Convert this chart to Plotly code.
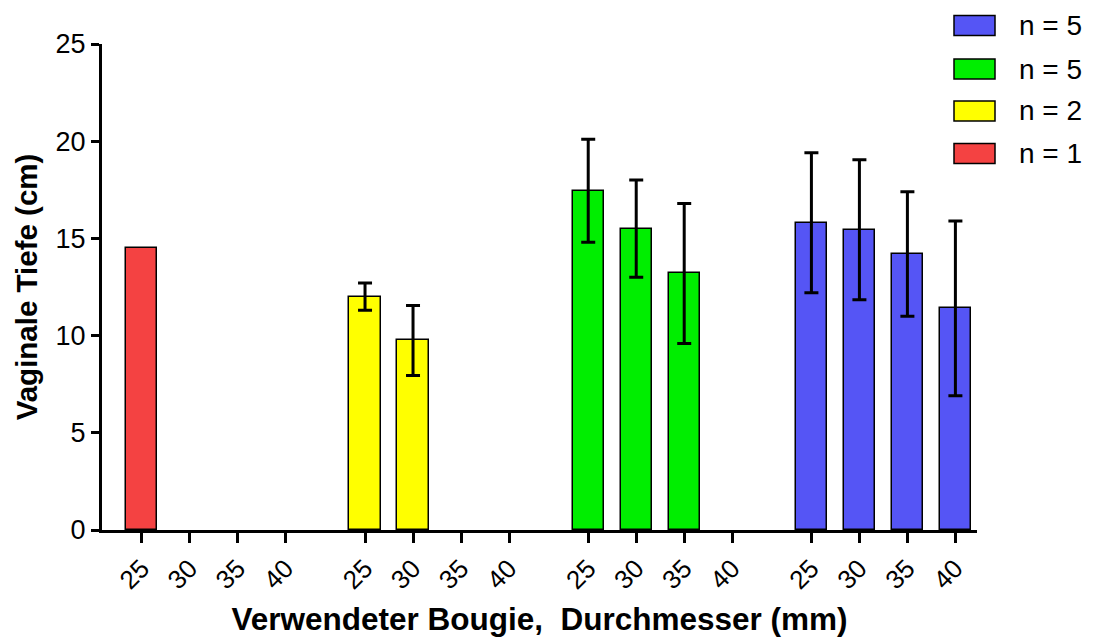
import plotly.graph_objects as go

# Data
sizes = ["25", "30", "35", "40"]
group_gap = 4.65
colors = ["#F44242", "#FFFF00", "#00EE00", "#5555F5"]

red_vals = [14.5, None, None, None]
red_err = [0, 0, 0, 0]
yellow_vals = [12.0, 9.75, None, None]
yellow_err = [0.7, 1.8, 0, 0]
green_vals = [17.45, 15.5, 13.2, None]
green_err = [2.65, 2.5, 3.6, 0]
blue_vals = [15.8, 15.45, 14.2, 11.4]
blue_err = [3.6, 3.6, 3.2, 4.5]

series = [
    ("n = 1", red_vals, red_err),
    ("n = 2", yellow_vals, yellow_err),
    ("n = 5", green_vals, green_err),
    ("n = 5", blue_vals, blue_err),
]

fig = go.Figure()
tickvals, ticktext = [], []
for g, (name, vals, errs) in enumerate(series):
    xs = [g * group_gap + k for k in range(len(sizes))]
    tickvals += xs
    ticktext += sizes
    px_, py_, pe_ = [], [], []
    for x, v, e in zip(xs, vals, errs):
        if v is not None:
            px_.append(x); py_.append(v); pe_.append(e)
    show_err = any(e > 0 for e in pe_)
    fig.add_trace(go.Bar(
        x=px_, y=py_, name=name, width=0.65, showlegend=False,
        marker=dict(color=colors[g], line=dict(color="black", width=1.5)),
        error_y=dict(type="data", array=pe_, visible=show_err,
                     color="black", thickness=3, width=7),
    ))

# Layout geometry (page has an 8px body offset)
W, H = 1099, 641
ML, MR, MT, MB = 94, 130, 36, 119
OFF = 8
PW = W - ML - MR
PH = H - MT - MB


def px_to_paper_x(px):
    return (px - OFF - ML) / PW


def px_to_paper_y(py):
    return (H - MB + OFF - py) / PH


# Custom legend (reverse order: top is last series)
legend_centers = [153.5, 111, 69, 25.5]  # screen y for red, yellow, green, blue
shapes, annotations = [], []
for g, (name, _, _) in enumerate(series):
    cy = legend_centers[g]
    shapes.append(dict(
        type="rect", xref="paper", yref="paper",
        x0=px_to_paper_x(954), x1=px_to_paper_x(995),
        y0=px_to_paper_y(cy + 10), y1=px_to_paper_y(cy - 10),
        fillcolor=colors[g], line=dict(color="black", width=1.5),
    ))
    annotations.append(dict(
        text=name, xref="paper", yref="paper",
        x=px_to_paper_x(1017), y=px_to_paper_y(cy),
        xanchor="left", yanchor="middle", showarrow=False,
        font=dict(size=28, color="black"),
    ))

font_family = "Liberation Sans, Arial, sans-serif"
fig.update_layout(
    width=W, height=H,
    margin=dict(l=ML, r=MR, t=MT, b=MB, autoexpand=False),
    plot_bgcolor="white", paper_bgcolor="white",
    font=dict(family=font_family, color="black"),
    bargap=0,
    shapes=shapes, annotations=annotations,
    showlegend=False,
)
fig.update_xaxes(
    range=[-0.83, 17.4], tickvals=tickvals, ticktext=ticktext,
    tickangle=-45, tickfont=dict(size=26),
    showline=True, linecolor="black", linewidth=3,
    ticks="outside", ticklen=10, tickwidth=3, tickcolor="black",
    showgrid=False, zeroline=False, automargin=False,
    title=dict(text="<b>Verwendeter Bougie,  Durchmesser (mm)</b>",
               font=dict(size=31.5), standoff=14),
)
fig.update_yaxes(
    range=[0, 25], tickvals=[0, 5, 10, 15, 20, 25],
    tickfont=dict(size=27),
    showline=True, linecolor="black", linewidth=3,
    ticks="outside", ticklen=8, tickwidth=3, tickcolor="black",
    showgrid=False, zeroline=False, automargin=False,
    title=dict(text="<b>Vaginale Tiefe (cm)</b>", font=dict(size=29.5), standoff=10),
)
fig.write_html("out.html")
